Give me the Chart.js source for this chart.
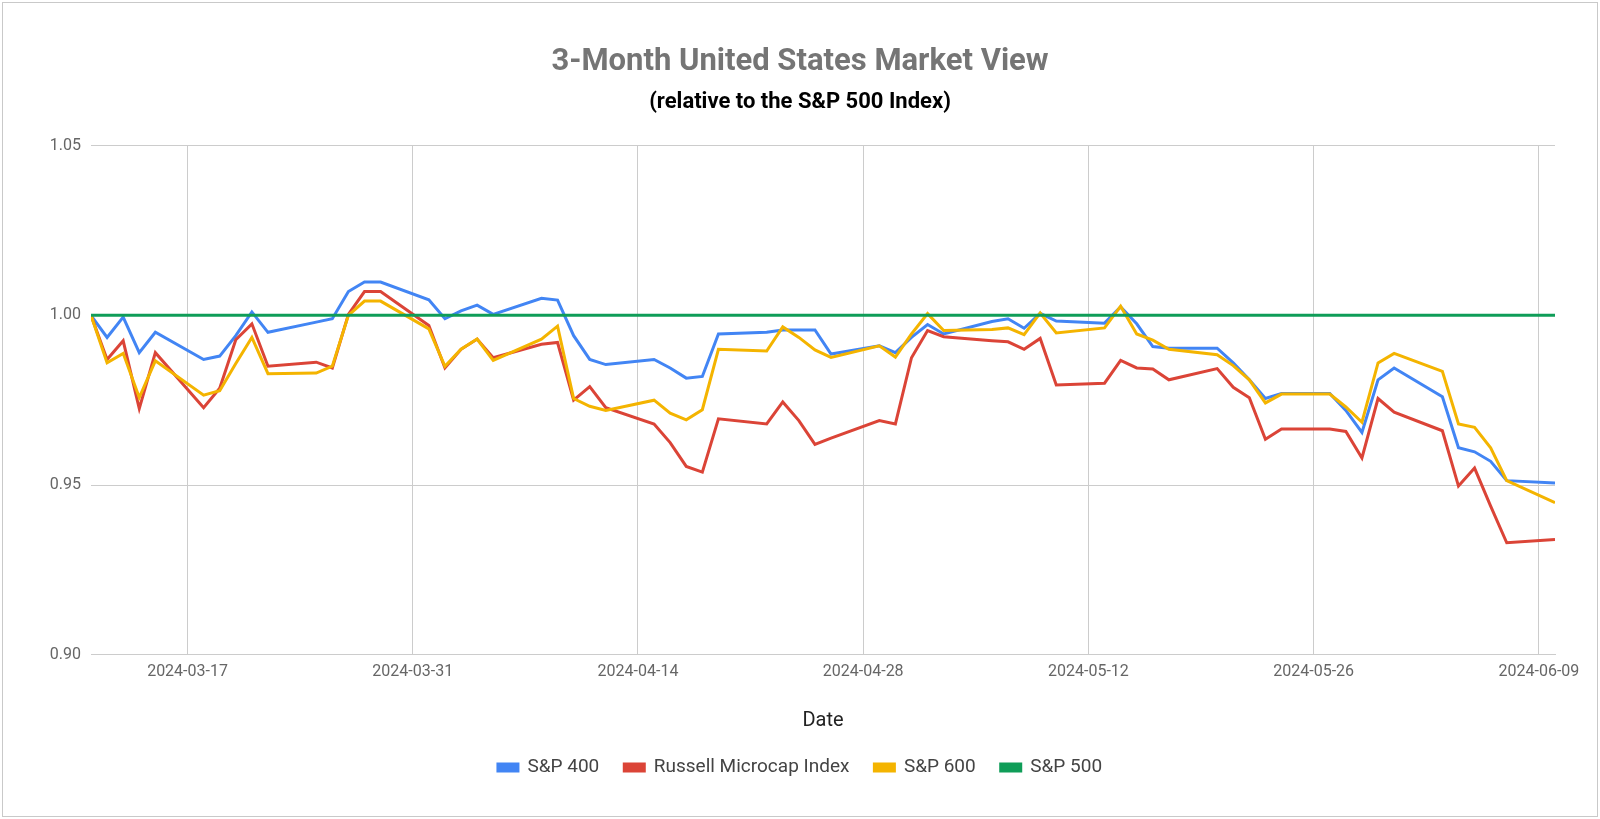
<!DOCTYPE html>
<html>
<head>
<meta charset="utf-8">
<script src="https://cdn.jsdelivr.net/npm/chart.js@4.4.1/dist/chart.umd.min.js"></script>
<style>
	html, body { margin: 0; padding: 0; background: #fff; }
	#box {
		position: absolute; left: 2px; top: 2px;
		width: 1596px; height: 815px;
		border: 1px solid #c9c9c9; box-sizing: border-box;
	}
</style>
</head>
<body>
<div id="box"><canvas id="line-chart"></canvas></div>
<script>
// trading days (Good Friday and Memorial Day carried forward)
var dates = [
	"2024-03-11","2024-03-12","2024-03-13","2024-03-14","2024-03-15",
	"2024-03-18","2024-03-19","2024-03-20","2024-03-21","2024-03-22",
	"2024-03-25","2024-03-26","2024-03-27","2024-03-28","2024-03-29",
	"2024-04-01","2024-04-02","2024-04-03","2024-04-04","2024-04-05",
	"2024-04-08","2024-04-09","2024-04-10","2024-04-11","2024-04-12",
	"2024-04-15","2024-04-16","2024-04-17","2024-04-18","2024-04-19",
	"2024-04-22","2024-04-23","2024-04-24","2024-04-25","2024-04-26",
	"2024-04-29","2024-04-30","2024-05-01","2024-05-02","2024-05-03",
	"2024-05-06","2024-05-07","2024-05-08","2024-05-09","2024-05-10",
	"2024-05-13","2024-05-14","2024-05-15","2024-05-16","2024-05-17",
	"2024-05-20","2024-05-21","2024-05-22","2024-05-23","2024-05-24",
	"2024-05-27","2024-05-28","2024-05-29","2024-05-30","2024-05-31",
	"2024-06-03","2024-06-04","2024-06-05","2024-06-06","2024-06-07",
	"2024-06-10"
];

var sp400 = [
	1.000, 0.9935, 0.9995, 0.989, 0.995,
	0.987, 0.988, 0.994, 1.001, 0.995,
	0.998, 0.999, 1.007, 1.0098, 1.0098,
	1.0046, 0.999, 1.0013, 1.003, 1.0003,
	1.005, 1.0045, 0.994, 0.987, 0.9855,
	0.987, 0.9845, 0.9815, 0.982, 0.9945,
	0.995, 0.9957, 0.9957, 0.9957, 0.9886,
	0.991, 0.989, 0.9935, 0.9973, 0.9945,
	0.9982, 0.999, 0.9962, 1.0006, 0.9983,
	0.9977, 1.0025, 0.9975, 0.9908, 0.9903,
	0.9903, 0.986, 0.981, 0.9755, 0.977,
	0.977, 0.972, 0.9655, 0.981, 0.9845,
	0.976, 0.961, 0.9598, 0.957, 0.9513,
	0.9506
];

var russell = [
	1.000, 0.987, 0.9925, 0.9725, 0.989,
	0.9728, 0.9785, 0.9928, 0.9975, 0.985,
	0.9862, 0.9845, 1.0003, 1.007, 1.007,
	0.997, 0.9845, 0.990, 0.993, 0.9875,
	0.9915, 0.992, 0.975, 0.979, 0.9728,
	0.968, 0.9625, 0.9555, 0.9538, 0.9695,
	0.968, 0.9745, 0.969, 0.962, 0.9638,
	0.969, 0.968, 0.9875, 0.9955, 0.9937,
	0.9925, 0.9922, 0.990, 0.9932, 0.9795,
	0.980, 0.9867, 0.9845, 0.9842, 0.981,
	0.9843, 0.9788, 0.9757, 0.9635, 0.9665,
	0.9665, 0.9658, 0.958, 0.9755, 0.9715,
	0.966, 0.9497, 0.955, 0.9438, 0.933,
	0.934
];

var sp600 = [
	1.000, 0.986, 0.9888, 0.9758, 0.9866,
	0.9765, 0.9778, 0.9858, 0.9935, 0.9828,
	0.983, 0.985, 1.000, 1.0042, 1.0042,
	0.996, 0.985, 0.990, 0.993, 0.9867,
	0.993, 0.9968, 0.9755, 0.9732, 0.972,
	0.975, 0.9712, 0.9692, 0.9722, 0.990,
	0.9895, 0.9966, 0.9935, 0.9898, 0.9876,
	0.991, 0.9877, 0.9945, 1.0005, 0.9955,
	0.9958, 0.9963, 0.9943, 1.0007, 0.9948,
	0.9963, 1.0027, 0.9945, 0.9927, 0.990,
	0.9884, 0.9852, 0.981, 0.9742, 0.9768,
	0.9768, 0.973, 0.9685, 0.986, 0.9888,
	0.9835, 0.968, 0.967, 0.961, 0.9513,
	0.9448
];

var sp500 = dates.map(function(){ return 1.0; });

var tickDates = ["2024-03-17","2024-03-31","2024-04-14","2024-04-28","2024-05-12","2024-05-26","2024-06-09"];
var yTicks = [0.90, 0.95, 1.00, 1.05];

var dayNum = function(s)
{
	var p = s.split("-");
	return Date.UTC(+p[0], +p[1] - 1, +p[2]) / 86400000;
}

var dayStr = function(n)
{
	return new Date(Math.round(n) * 86400000).toISOString().slice(0, 10);
}

var toPoints = function(vals)
{
	return dates.map(function(d, i){ return {x: dayNum(d), y: vals[i]}; });
}

var font = "Roboto, 'Noto Sans', sans-serif";

var series = [
	{label: "S&P 400", data: sp400, color: "#4285F4", order: 4},
	{label: "Russell Microcap Index", data: russell, color: "#DB4437", order: 3},
	{label: "S&P 600", data: sp600, color: "#F4B400", order: 2},
	{label: "S&P 500", data: sp500, color: "#0F9D58", order: 1}
];

new Chart(document.getElementById("line-chart"), {
	type: 'line',
	data: {
		datasets: series.map(function(s){
			return {
				label: s.label,
				data: toPoints(s.data),
				borderColor: s.color,
				backgroundColor: s.color,
				borderWidth: 3,
				pointRadius: 0,
				tension: 0,
				order: s.order
			};
		})
	},
	options: {
		responsive: true,
		maintainAspectRatio: false,
		animation: false,
		// equal side padding keeps title and legend centred on the canvas
		layout: { padding: { left: 42, right: 42, top: 0, bottom: 29 } },
		plugins: {
			title: {
				display: true,
				text: '3-Month United States Market View',
				color: '#757575',
				font: { family: font, size: 31, weight: 'bold' },
				padding: { top: 41, bottom: 8 }
			},
			subtitle: {
				display: true,
				text: '(relative to the S&P 500 Index)',
				color: '#000',
				font: { family: font, size: 22, weight: 'bold' },
				padding: { top: 0, bottom: 30 }
			},
			legend: {
				position: 'bottom',
				labels: {
					boxWidth: 20,
					boxHeight: 7,
					padding: 25,
					color: '#444',
					font: { family: font, size: 19 },
					sort: function(a, b){ return a.datasetIndex - b.datasetIndex; }
				}
			},
			tooltip: { enabled: false }
		},
		scales: {
			x: {
				type: 'linear',
				min: dayNum(dates[0]),
				max: dayNum(dates[dates.length - 1]),
				afterBuildTicks: function(scale){
					scale.ticks = tickDates.map(function(d){ return {value: dayNum(d)}; });
				},
				ticks: {
					autoSkip: false,
					maxRotation: 0,
					padding: 8,
					color: '#666',
					font: { family: font, size: 16 },
					callback: function(v){ return dayStr(v); }
				},
				grid: { color: '#cccccc', drawTicks: false },
				border: { color: '#cccccc' },
				title: {
					display: true,
					text: 'Date',
					color: '#222',
					font: { family: font, size: 20 },
					padding: { top: 19, bottom: 0 }
				}
			},
			y: {
				min: 0.90,
				max: 1.05,
				afterBuildTicks: function(scale){
					scale.ticks = yTicks.map(function(v){ return {value: v}; });
				},
				afterFit: function(scale){ scale.width = 46; },
				ticks: {
					padding: 10,
					color: '#666',
					font: { family: font, size: 16 },
					callback: function(v){ return v.toFixed(2); }
				},
				grid: { color: '#cccccc', drawTicks: false },
				border: { display: false }
			}
		}
	}
});
</script>
</body>
</html>
